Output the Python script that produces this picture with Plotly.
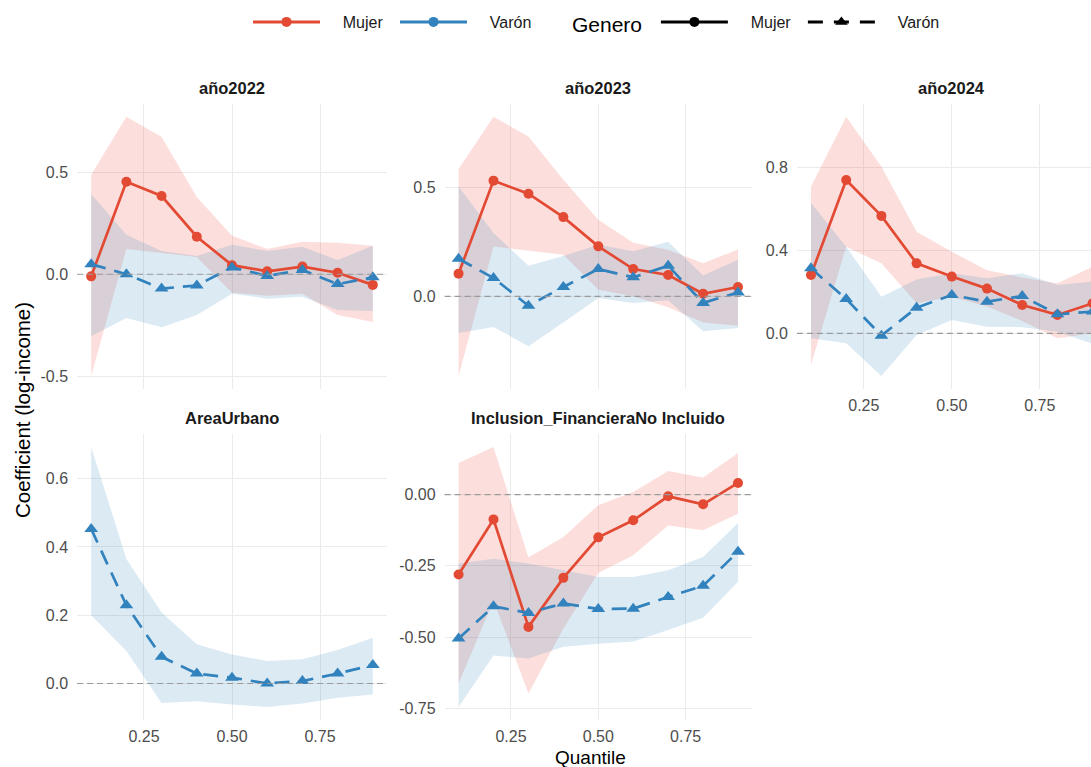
import plotly.graph_objects as go

# ---------------------------------------------------------------------------
# Quantile regression coefficients (point estimate, lower and upper CI bound)
# ---------------------------------------------------------------------------
quantiles = [0.1, 0.2, 0.3, 0.4, 0.5, 0.6, 0.7, 0.8, 0.9]

# año2022
a2022_mujer = [-0.01, 0.455, 0.385, 0.185, 0.045, 0.015, 0.038, 0.008, -0.052]
a2022_mujer_lo = [-0.50, 0.125, 0.105, 0.085, -0.09, -0.105, -0.095, -0.20, -0.235]
a2022_mujer_hi = [0.49, 0.775, 0.675, 0.38, 0.19, 0.125, 0.16, 0.155, 0.14]
a2022_varon = [0.05, 0.0, -0.07, -0.055, 0.034, -0.008, 0.021, -0.048, -0.015]
a2022_varon_lo = [-0.305, -0.215, -0.26, -0.2, -0.095, -0.12, -0.11, -0.175, -0.18]
a2022_varon_hi = [0.395, 0.195, 0.115, 0.09, 0.145, 0.115, 0.135, 0.07, 0.14]

# año2023
a2023_mujer = [0.104, 0.53, 0.47, 0.363, 0.229, 0.125, 0.098, 0.012, 0.043]
a2023_mujer_lo = [-0.365, 0.228, 0.21, 0.19, 0.03, 0.0, -0.05, -0.12, -0.135]
a2023_mujer_hi = [0.583, 0.823, 0.732, 0.534, 0.351, 0.245, 0.213, 0.152, 0.215]
a2023_varon = [0.172, 0.084, -0.043, 0.043, 0.125, 0.087, 0.14, -0.03, 0.018]
a2023_varon_lo = [-0.168, -0.14, -0.229, -0.12, -0.008, -0.03, -0.018, -0.16, -0.145]
a2023_varon_hi = [0.503, 0.29, 0.14, 0.185, 0.236, 0.206, 0.25, 0.095, 0.168]

# año2024
a2024_mujer = [0.282, 0.74, 0.567, 0.338, 0.274, 0.216, 0.137, 0.089, 0.145]
a2024_mujer_lo = [-0.153, 0.418, 0.338, 0.145, 0.177, 0.13, 0.06, -0.024, 0.0]
a2024_mujer_hi = [0.708, 1.046, 0.805, 0.491, 0.394, 0.305, 0.27, 0.242, 0.322]
a2024_varon = [0.314, 0.166, -0.011, 0.124, 0.185, 0.153, 0.18, 0.092, 0.105]
a2024_varon_lo = [-0.024, -0.048, -0.206, -0.008, 0.064, 0.032, 0.03, 0.008, -0.05]
a2024_varon_hi = [0.63, 0.418, 0.177, 0.26, 0.29, 0.266, 0.29, 0.233, 0.25]

# AreaUrbano (only estimated for Varón)
urbano_varon = [0.453, 0.229, 0.078, 0.029, 0.017, 0.0, 0.007, 0.029, 0.054]
urbano_varon_lo = [0.2, 0.095, -0.057, -0.052, -0.062, -0.069, -0.059, -0.042, -0.032]
urbano_varon_hi = [0.693, 0.365, 0.208, 0.115, 0.085, 0.066, 0.071, 0.098, 0.134]

# Inclusion_FinancieraNo Incluido
incl_mujer = [-0.28, -0.087, -0.464, -0.292, -0.15, -0.09, -0.006, -0.034, 0.041]
incl_mujer_lo = [-0.663, -0.371, -0.698, -0.47, -0.275, -0.213, -0.108, -0.125, -0.067]
incl_mujer_hi = [0.111, 0.167, -0.221, -0.149, -0.037, 0.009, 0.083, 0.06, 0.146]
incl_varon = [-0.505, -0.392, -0.415, -0.382, -0.401, -0.4, -0.359, -0.32, -0.2]
incl_varon_lo = [-0.745, -0.564, -0.575, -0.534, -0.523, -0.515, -0.475, -0.432, -0.306]
incl_varon_hi = [-0.242, -0.225, -0.242, -0.265, -0.289, -0.289, -0.265, -0.219, -0.1]

# Tick labels
x_ticks = [0.25, 0.50, 0.75]
x_ticklabels = ["0.25", "0.50", "0.75"]
y_ticks_2022 = [-0.5, 0.0, 0.5]
y_ticklabels_2022 = ["-0.5", "0.0", "0.5"]
y_ticks_2023 = [0.0, 0.5]
y_ticklabels_2023 = ["0.0", "0.5"]
y_ticks_2024 = [0.0, 0.4, 0.8]
y_ticklabels_2024 = ["0.0", "0.4", "0.8"]
y_ticks_urbano = [0.0, 0.2, 0.4, 0.6]
y_ticklabels_urbano = ["0.0", "0.2", "0.4", "0.6"]
y_ticks_incl = [-0.75, -0.50, -0.25, 0.00]
y_ticklabels_incl = ["-0.75", "-0.50", "-0.25", "0.00"]

# ---------------------------------------------------------------------------
# Styling
# ---------------------------------------------------------------------------
W, H = 1091, 767
FONT = "Liberation Sans, Arial, sans-serif"
MUJER_COLOR = "#E34A33"
VARON_COLOR = "#3182BD"
MUJER_FILL = "rgba(240, 80, 60, 0.18)"
VARON_FILL = "rgba(49, 130, 189, 0.17)"
GRID = "#EBEBEB"
TICK_COLOR = "#4D4D4D"
PAD = "\u00a0" * 4  # space between legend key and its label

# Panel placement in pixels (left, right, top, bottom)
COLS = [(77.1, 386.9), (444.6, 752.0), (796.9, 1091.0)]
ROWS = [(103.7, 389.0), (434.0, 720.0)]


def xdom(c):
    return [COLS[c][0] / W, COLS[c][1] / W]


def ydom(r):
    return [(H - ROWS[r][1]) / H, (H - ROWS[r][0]) / H]


def padded(*series):
    lo = min(min(s) for s in series)
    hi = max(max(s) for s in series)
    pad = (hi - lo) * 0.05
    return [lo - pad, hi + pad]


panels = [
    dict(title="año2022", row=0, col=0, xlab=False,
         mujer=(a2022_mujer, a2022_mujer_lo, a2022_mujer_hi),
         varon=(a2022_varon, a2022_varon_lo, a2022_varon_hi),
         yt=(y_ticks_2022, y_ticklabels_2022)),
    dict(title="año2023", row=0, col=1, xlab=False,
         mujer=(a2023_mujer, a2023_mujer_lo, a2023_mujer_hi),
         varon=(a2023_varon, a2023_varon_lo, a2023_varon_hi),
         yt=(y_ticks_2023, y_ticklabels_2023)),
    dict(title="año2024", row=0, col=2, xlab=True,
         mujer=(a2024_mujer, a2024_mujer_lo, a2024_mujer_hi),
         varon=(a2024_varon, a2024_varon_lo, a2024_varon_hi),
         yt=(y_ticks_2024, y_ticklabels_2024)),
    dict(title="AreaUrbano", row=1, col=0, xlab=True,
         mujer=None,
         varon=(urbano_varon, urbano_varon_lo, urbano_varon_hi),
         yt=(y_ticks_urbano, y_ticklabels_urbano)),
    dict(title="Inclusion_FinancieraNo Incluido", row=1, col=1, xlab=True,
         mujer=(incl_mujer, incl_mujer_lo, incl_mujer_hi),
         varon=(incl_varon, incl_varon_lo, incl_varon_hi),
         yt=(y_ticks_incl, y_ticklabels_incl)),
]

fig = go.Figure()
annotations = []
shapes = []
layout_axes = {}

x_full = [0.06, 0.94]

for i, p in enumerate(panels):
    n = "" if i == 0 else str(i + 1)
    xa, ya = "x" + n, "y" + n
    groups = []
    if p["mujer"] is not None:
        groups.append(("Mujer", p["mujer"], MUJER_COLOR, MUJER_FILL, "solid", "circle", 10))
    groups.append(("Varón", p["varon"], VARON_COLOR, VARON_FILL, "15px,9px", "triangle-up", 12))

    # confidence ribbons
    for name, (est, lo, hi), color, fill, dash, sym, size in groups:
        fig.add_trace(go.Scatter(
            x=quantiles + quantiles[::-1], y=hi + lo[::-1],
            fill="toself", fillcolor=fill, line=dict(width=0),
            mode="lines", hoverinfo="skip", showlegend=False,
            xaxis=xa, yaxis=ya))
    # estimate lines
    for name, (est, lo, hi), color, fill, dash, sym, size in groups:
        fig.add_trace(go.Scatter(
            x=quantiles, y=est, mode="lines",
            line=dict(color=color, width=2.7, dash=dash),
            showlegend=False, name=name, xaxis=xa, yaxis=ya))
    # estimate points
    for name, (est, lo, hi), color, fill, dash, sym, size in groups:
        fig.add_trace(go.Scatter(
            x=quantiles, y=est, mode="markers",
            marker=dict(color=color, size=size, symbol=sym, line=dict(width=0)),
            showlegend=False, name=name, xaxis=xa, yaxis=ya))

    all_series = []
    for g in groups:
        all_series += [g[1][1], g[1][2]]
    yr = padded(*all_series)

    # rightmost panel runs off the edge of the canvas
    if p["col"] == 2:
        px_per_unit = (COLS[0][1] - COLS[0][0]) / (x_full[1] - x_full[0])
        xr = [x_full[0], x_full[0] + (COLS[2][1] - COLS[2][0]) / px_per_unit]
    else:
        xr = x_full

    layout_axes["xaxis" + n] = dict(
        domain=xdom(p["col"]), anchor=ya, range=xr,
        tickvals=x_ticks, ticktext=x_ticklabels, showticklabels=p["xlab"],
        showgrid=True, gridcolor=GRID, gridwidth=1, zeroline=False,
        showline=False, ticks="", ticklabelstandoff=5,
        tickfont=dict(family=FONT, size=16, color=TICK_COLOR))
    layout_axes["yaxis" + n] = dict(
        domain=ydom(p["row"]), anchor=xa, range=yr,
        tickvals=p["yt"][0], ticktext=p["yt"][1],
        showgrid=True, gridcolor=GRID, gridwidth=1, zeroline=False,
        showline=False, ticks="", ticklabelstandoff=8,
        tickfont=dict(family=FONT, size=16, color=TICK_COLOR))

    # reference line at zero
    shapes.append(dict(type="line", xref=xa + " domain", yref=ya,
                       x0=0, x1=1, y0=0, y1=0,
                       line=dict(color="#9A9A9A", width=1.1, dash="6px,4px")))

    # facet strip title
    c0, c1 = COLS[p["col"]]
    if p["col"] == 2:
        c1 = c0 + (COLS[0][1] - COLS[0][0])
    cx = (c0 + c1) / 2 / W
    ty = (H - (ROWS[p["row"]][0] - 16)) / H
    annotations.append(dict(text=p["title"], x=cx, y=ty, xref="paper", yref="paper",
                            xanchor="center", yanchor="middle", showarrow=False,
                            font=dict(family=FONT, size=16.5, color="#1A1A1A",
                                      weight="bold")))

# Legend entries
fig.add_trace(go.Scatter(x=[None], y=[None], mode="lines+markers", name=PAD + "Mujer",
                         line=dict(color=MUJER_COLOR, width=3),
                         marker=dict(color=MUJER_COLOR, size=10, symbol="circle"),
                         legend="legend"))
fig.add_trace(go.Scatter(x=[None], y=[None], mode="lines+markers", name=PAD + "Varón",
                         line=dict(color=VARON_COLOR, width=3),
                         marker=dict(color=VARON_COLOR, size=10, symbol="circle"),
                         legend="legend"))
fig.add_trace(go.Scatter(x=[None], y=[None], mode="lines+markers", name=PAD + "Mujer",
                         line=dict(color="black", width=3),
                         marker=dict(color="black", size=10, symbol="circle"),
                         legend="legend2"))
fig.add_trace(go.Scatter(x=[None], y=[None], mode="lines+markers", name=PAD + "Varón",
                         line=dict(color="black", width=3, dash="15px,11px"),
                         marker=dict(color="black", size=11, symbol="triangle-up"),
                         legend="legend2"))

# Shared axis titles
annotations.append(dict(text="Coefficient (log-income)", x=22 / W, y=(H - 410) / H,
                        xref="paper", yref="paper", textangle=-90, showarrow=False,
                        xanchor="center", yanchor="middle",
                        font=dict(family=FONT, size=20.5, color="black")))
annotations.append(dict(text="Quantile", x=590 / W, y=(H - 757) / H,
                        xref="paper", yref="paper", showarrow=False,
                        xanchor="center", yanchor="middle",
                        font=dict(family=FONT, size=19, color="black")))

fig.update_layout(
    width=W, height=H, autosize=False,
    margin=dict(l=0, r=0, t=0, b=0),
    paper_bgcolor="white", plot_bgcolor="white",
    font=dict(family=FONT),
    showlegend=True,
    legend=dict(orientation="h", x=248 / W, xanchor="left", y=1 - 5 / H, yanchor="top",
                font=dict(family=FONT, size=16, color="#1A1A1A"),
                itemwidth=67, entrywidth=65, bgcolor="rgba(0,0,0,0)"),
    legend2=dict(orientation="h", x=570 / W, xanchor="left", y=1 - 5 / H, yanchor="top",
                 title=dict(text="Genero" + "\u00a0", side="left",
                            font=dict(family=FONT, size=21, color="black")),
                 font=dict(family=FONT, size=16, color="#1A1A1A"),
                 itemwidth=67, entrywidth=65, bgcolor="rgba(0,0,0,0)"),
    annotations=annotations,
    shapes=shapes,
    **layout_axes,
)

fig.write_html("out.html")
